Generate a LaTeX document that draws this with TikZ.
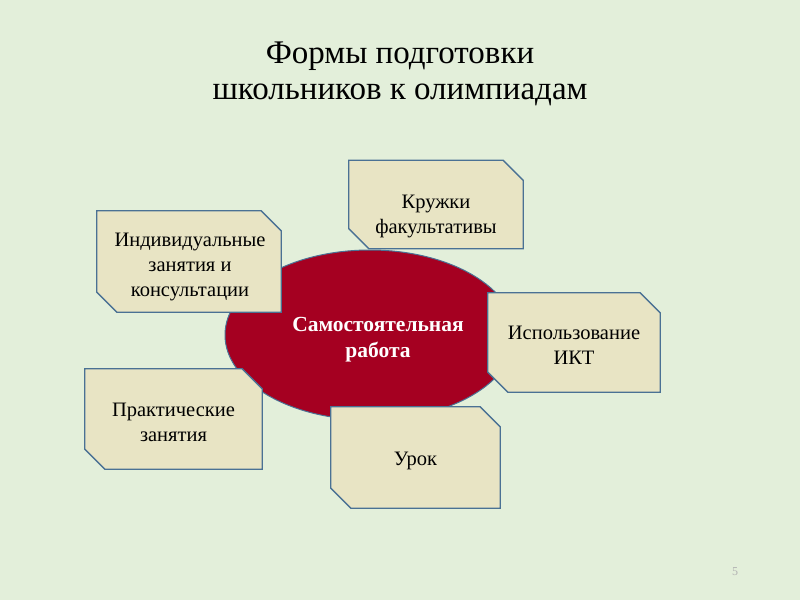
\documentclass[tikz,border=0pt]{standalone}
\usepackage{fontspec}
\setmainfont{Liberation Serif}
\usetikzlibrary{shapes.geometric,calc}
\definecolor{bg}{HTML}{E3EFDA}
\definecolor{boxfill}{HTML}{E8E4C4}
\definecolor{boxline}{HTML}{4A7194}
\definecolor{ellred}{HTML}{A50021}
\tikzset{
  boxframe/.style={rectangle, draw=none, inner sep=0pt},
  snipline/.style={draw=boxline, line width=1.3pt, fill=boxfill, line join=miter},
  boxtext/.style={align=center, font=\fontsize{20.5}{25}\selectfont, text=black},
  titletext/.style={align=center, font=\fontsize{33}{36}\selectfont, text=black},
}
\newcommand{\snipbox}[1]{%
  \path[snipline] (#1.north west) -- ($(#1.north east)+(-20,0)$) -- ($(#1.north east)+(0,20)$)
    -- (#1.south east) -- ($(#1.south west)+(20,0)$) -- ($(#1.south west)+(0,-20)$) -- cycle;}
\begin{document}
\begin{tikzpicture}[x=1pt,y=-1pt]
\fill[bg] (0,0) rectangle (800,600);
\useasboundingbox (0,0) rectangle (800,600);
\node[titletext] (title) at (400,74) {Формы подготовки\\школьников к олимпиадам};
\node[draw=boxline, line width=1pt, fill=ellred, ellipse, minimum width=290pt, minimum height=170pt, inner sep=0pt] (center) at (370,335) {};
\node[boxtext, text=white, font=\fontsize{21.5}{26}\selectfont\bfseries] (ctext) at (378,340) {Самостоятельная\\работа};
\node[boxframe, minimum width=184pt, minimum height=101pt] (b1) at (189,261.5) {};
\snipbox{b1}
\node[boxtext] (t1) at (190,267) {Индивидуальные\\занятия и\\консультации};
\node[boxframe, minimum width=174pt, minimum height=88pt] (b2) at (436,204.5) {};
\snipbox{b2}
\node[boxtext] (t2) at (436,216) {Кружки\\факультативы};
\node[boxframe, minimum width=172pt, minimum height=99pt] (b3) at (574,342.5) {};
\snipbox{b3}
\node[boxtext] (t3) at (574,345) {Использование\\ИКТ};
\node[boxframe, minimum width=177pt, minimum height=100pt] (b4) at (173.5,419) {};
\snipbox{b4}
\node[boxtext] (t4) at (173.5,422) {Практические\\занятия};
\node[boxframe, minimum width=169pt, minimum height=101pt] (b5) at (415.5,457.5) {};
\snipbox{b5}
\node[boxtext] (t5) at (415.5,461) {Урок};
\node[text=gray!60, font=\fontsize{12}{14}\selectfont] (pg) at (735,572) {5};
\end{tikzpicture}
\end{document}
